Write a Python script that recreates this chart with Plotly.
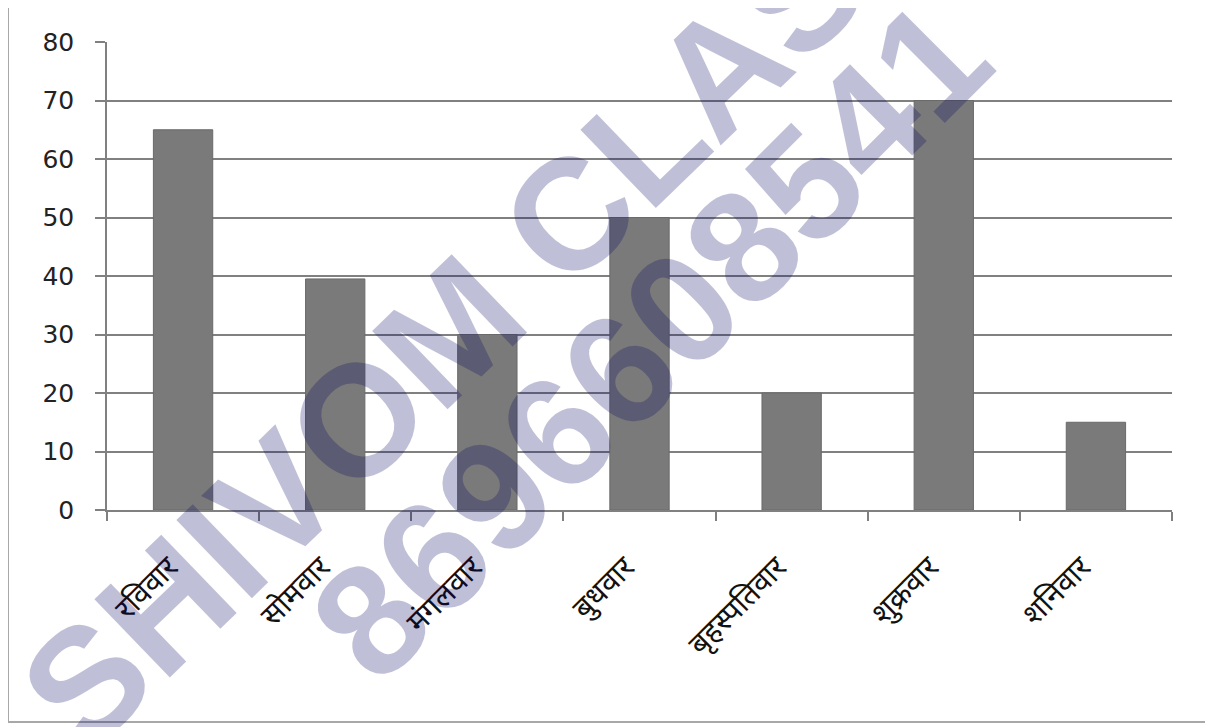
import plotly.graph_objects as go

# ---- data ----
days = ["रविवार", "सोमवार", "मंगलवार", "बुधवार", "बृहस्पतिवार", "शुक्रवार", "शनिवार"]
values = [65, 39.5, 30, 50, 20, 70, 15]
y_ticks = [0, 10, 20, 30, 40, 50, 60, 70, 80]
watermark_line1 = "SHIVOM CLASSES"
watermark_line2 = "8696608541"

# ---- layout geometry (page pixels; the page body has an 8px margin) ----
OFF = 8
W, H = 1213 - OFF, 727 - OFF
PLOT_L, PLOT_R, PLOT_T, PLOT_B = 107, 1172, 42, 510  # page pixels
ML, MR = PLOT_L - OFF, W - (PLOT_R - OFF)
MT, MB = PLOT_T - OFF, H - (PLOT_B - OFF)
PW, PH = PLOT_R - PLOT_L, PLOT_B - PLOT_T


def px(x):
    return (x - PLOT_L) / PW


def py(y):
    return (PLOT_B - y) / PH


GRID = "#808080"
DEV_FONT = "Noto Sans Devanagari, Lohit Devanagari, FreeSans, Mangal, Noto Sans, sans-serif"

fig = go.Figure(
    go.Bar(
        x=days,
        y=values,
        width=0.39,
        marker=dict(color="#7a7a7a", line=dict(color="#6a6a6a", width=1)),
    )
)

fig.update_layout(
    width=W,
    height=H,
    margin=dict(l=ML, r=MR, t=MT, b=MB, autoexpand=False),
    paper_bgcolor="white",
    plot_bgcolor="white",
    showlegend=False,
    xaxis=dict(
        type="category",
        tickangle=-45,
        tickson="boundaries",
        ticks="outside",
        ticklen=9,
        tickwidth=1.5,
        tickcolor=GRID,
        showline=True,
        linecolor=GRID,
        linewidth=1.5,
        showgrid=False,
        automargin=False,
        ticklabelstandoff=26,
        ticklabelshift=-14,
        tickfont=dict(family=DEV_FONT, size=30, color="#111111"),
    ),
    yaxis=dict(
        range=[0, 80],
        tickvals=y_ticks,
        ticks="outside",
        ticklen=10,
        tickwidth=1.5,
        tickcolor=GRID,
        showline=True,
        linecolor=GRID,
        linewidth=1.5,
        showgrid=True,
        gridcolor=GRID,
        gridwidth=1.5,
        zeroline=False,
        automargin=False,
        ticklabelstandoff=16,
        tickfont=dict(family="DejaVu Sans", size=25, color="#222222"),
    ),
    shapes=[
        dict(
            type="rect", xref="paper", yref="paper",
            x0=px(8), x1=px(1208), y0=py(722), y1=py(5),
            line=dict(color="#a8a8a8", width=2), layer="below",
        )
    ],
    annotations=[
        dict(
            text=watermark_line1, xref="paper", yref="paper",
            x=px(556), y=py(228), xanchor="center", yanchor="middle",
            showarrow=False, textangle=-44,
            font=dict(family="Liberation Sans", size=158, color="rgba(0,0,95,0.25)", weight="bold"),
        ),
        dict(
            text=watermark_line2, xref="paper", yref="paper",
            x=px(650), y=py(340), xanchor="center", yanchor="middle",
            showarrow=False, textangle=-45,
            font=dict(family="Liberation Sans", size=158, color="rgba(0,0,95,0.25)", weight="bold"),
        ),
    ],
)

fig.write_html("out.html")
